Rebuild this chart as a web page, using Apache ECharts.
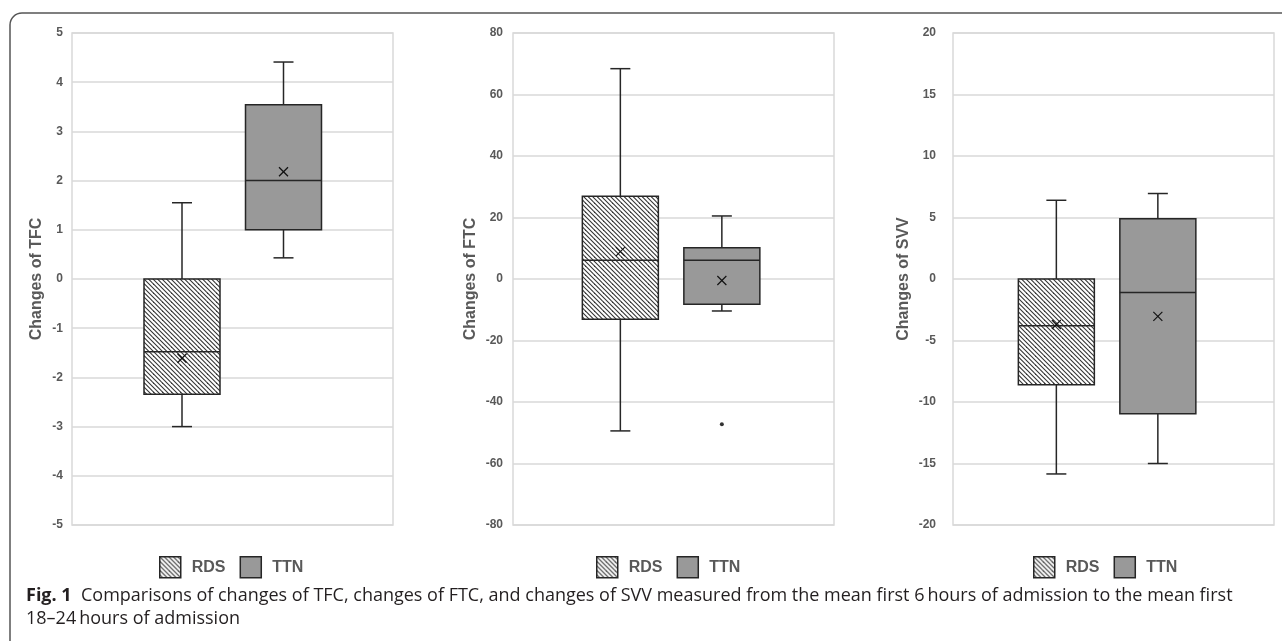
<!DOCTYPE html>
<html><head><meta charset="utf-8">
<script src="https://cdn.jsdelivr.net/npm/echarts@6/dist/echarts.min.js"></script>
<style>html,body{margin:0;padding:0;background:#fff}#c{width:1282px;height:641px}</style>
</head><body><div id="c"></div>
<script>
// ---------- data ----------
const groups = ['RDS', 'TTN'];
// five-number summaries: [min, Q1, median, Q3, max]
const tfcRDS = [-3.00, -2.34, -1.48, 0.00, 1.55];
const tfcTTN = [0.43, 1.00, 2.00, 3.54, 4.41];
const tfcMeans = [-1.61, 2.18];
const ftcRDS = [-49.4, -13.1, 6.1, 26.9, 68.4];
const ftcTTN = [-10.4, -8.2, 6.1, 10.2, 20.5];
const ftcMeans = [8.9, -0.5];
const ftcOutliersTTN = [-47.2];
const svvRDS = [-15.85, -8.6, -3.8, 0.0, 6.4];
const svvTTN = [-15.0, -10.95, -1.1, 4.9, 6.95];
const svvMeans = [-3.7, -3.04];
const axisTitles = ['Changes of TFC', 'Changes of FTC', 'Changes of SVV'];
const yMins = [-5, -80, -20];
const yMaxs = [5, 80, 20];
const yIntervals = [1, 20, 5];
const captionBold = 'Fig. 1';
const captionLine1 = 'Comparisons of changes of TFC, changes of FTC, and changes of SVV measured from the mean first 6\u2009hours of admission to the mean first';
const captionLine2 = '18\u201324\u2009hours of admission';

// ---------- layout / style ----------
const panelData = [
  { five: [tfcRDS, tfcTTN], means: tfcMeans, outliers: [[], []] },
  { five: [ftcRDS, ftcTTN], means: ftcMeans, outliers: [[], ftcOutliersTTN] },
  { five: [svvRDS, svvTTN], means: svvMeans, outliers: [[], []] }
];
const panelLayout = [
  { left: 72, boxLeft: 131.25, labelMargin: 9, nameGap: 27, legendLeft: 159 },
  { left: 513, boxLeft: 569.6, labelMargin: 10, nameGap: 34, legendLeft: 596 },
  { left: 953, boxLeft: 1005.6, labelMargin: 17, nameGap: 41, legendLeft: 1033 }
];
const PLOT_W = 321, PLOT_TOP = 33, PLOT_H = 492, BOX_GRID_W = 203;
const AXIS_FONT = '"Liberation Sans", Arial, sans-serif';
const GRAY_TEXT = '#595959';
const STROKE = '#262626';

function makeHatch() {
  const s = 9;
  const c = document.createElement('canvas');
  c.width = s; c.height = s;
  const ctx = c.getContext('2d');
  ctx.fillStyle = '#ffffff'; ctx.fillRect(0, 0, s, s);
  ctx.strokeStyle = '#333333'; ctx.lineWidth = 1.1;
  for (let k = -3; k <= 3; k++) {
    const o = k * 4.5;
    ctx.beginPath(); ctx.moveTo(o - 1, -1); ctx.lineTo(o + s + 1, s + 1); ctx.stroke();
  }
  return c;
}
const hatch = { image: makeHatch(), repeat: 'repeat' };
const fills = [hatch, '#999999'];

function makeRender(fill) {
  return function (params, api) {
    const cat = api.value(0);
    const v = [1, 2, 3, 4, 5, 6].map(i => api.value(i));
    const p = v.map(val => api.coord([cat, val]));
    const x = p[0][0];
    const hw = 38, cw = 10, m = 4.5, lw = 1.5;
    const yMin = p[0][1], yQ1 = p[1][1], yMed = p[2][1], yQ3 = p[3][1], yMax = p[4][1], yMean = p[5][1];
    const ls = { stroke: STROKE, lineWidth: lw };
    return {
      type: 'group',
      children: [
        { type: 'line', shape: { x1: x, y1: yQ1, x2: x, y2: yMin }, style: ls },
        { type: 'line', shape: { x1: x - cw, y1: yMin, x2: x + cw, y2: yMin }, style: ls },
        { type: 'line', shape: { x1: x, y1: yQ3, x2: x, y2: yMax }, style: ls },
        { type: 'line', shape: { x1: x - cw, y1: yMax, x2: x + cw, y2: yMax }, style: ls },
        { type: 'rect', shape: { x: x - hw, y: yQ3, width: 2 * hw, height: yQ1 - yQ3 }, style: { fill: fill, stroke: STROKE, lineWidth: lw } },
        { type: 'line', shape: { x1: x - hw, y1: yMed, x2: x + hw, y2: yMed }, style: ls },
        { type: 'line', shape: { x1: x - m, y1: yMean - m, x2: x + m, y2: yMean + m }, style: { stroke: '#111', lineWidth: 1.2 } },
        { type: 'line', shape: { x1: x - m, y1: yMean + m, x2: x + m, y2: yMean - m }, style: { stroke: '#111', lineWidth: 1.2 } }
      ]
    };
  };
}

const grids = [], xAxes = [], yAxes = [], series = [], legends = [];
panelLayout.forEach((L, i) => {
  const D = panelData[i];
  grids.push({ left: L.left, top: PLOT_TOP, width: PLOT_W, height: PLOT_H, show: true,
    borderColor: '#d9d9d9', borderWidth: 1.5, backgroundColor: 'transparent', containLabel: false, outerBoundsMode: 'none' });
  grids.push({ left: L.boxLeft, top: PLOT_TOP, width: BOX_GRID_W, height: PLOT_H, show: false, containLabel: false, outerBoundsMode: 'none' });
  xAxes.push({ gridIndex: 2 * i, type: 'category', data: [''], show: false });
  xAxes.push({ gridIndex: 2 * i + 1, type: 'category', data: groups, show: false, boundaryGap: true });
  yAxes.push({
    gridIndex: 2 * i, type: 'value', min: yMins[i], max: yMaxs[i], interval: yIntervals[i],
    axisLine: { show: false }, axisTick: { show: false },
    splitLine: { show: true, lineStyle: { color: '#d9d9d9', width: 1.5 } },
    axisLabel: { fontFamily: AXIS_FONT, fontWeight: 'bold', fontSize: 12, color: GRAY_TEXT, margin: L.labelMargin },
    name: axisTitles[i], nameLocation: 'middle', nameGap: L.nameGap,
    nameTextStyle: { fontFamily: AXIS_FONT, fontWeight: 'bold', fontSize: 16, color: GRAY_TEXT }
  });
  yAxes.push({ gridIndex: 2 * i + 1, type: 'value', min: yMins[i], max: yMaxs[i], interval: yIntervals[i], show: false, splitLine: { show: false } });
  groups.forEach((g, gi) => {
    series.push({
      type: 'custom', name: g, xAxisIndex: 2 * i + 1, yAxisIndex: 2 * i + 1,
      itemStyle: { color: fills[gi], borderColor: STROKE, borderWidth: 1.5 },
      renderItem: makeRender(fills[gi]),
      data: [[gi, ...D.five[gi], D.means[gi]]],
      silent: true, z: 3
    });
    if (D.outliers[gi].length) {
      series.push({
        type: 'scatter', name: g + ' outliers', xAxisIndex: 2 * i + 1, yAxisIndex: 2 * i + 1,
        symbol: 'circle', symbolSize: 4, itemStyle: { color: '#000' },
        data: D.outliers[gi].map(v => [gi, v]), silent: true, z: 4
      });
    }
  });
  legends.push({
    data: groups, left: L.legendLeft, top: 556, padding: 0, orient: 'horizontal',
    itemWidth: 21, itemHeight: 21, itemGap: 14, icon: 'rect', selectedMode: false,
    itemStyle: { borderColor: STROKE, borderWidth: 1.5 },
    textStyle: { fontFamily: AXIS_FONT, fontWeight: 'bold', fontSize: 16, color: GRAY_TEXT, padding: [0, 0, 0, 6] }
  });
});

const CAP_FONT = '"Open Sans", "Noto Sans", sans-serif';
function fitCaption() {
  const ctx = document.createElement('canvas').getContext('2d');
  ctx.font = 'bold 16px ' + CAP_FONT;
  const wb = ctx.measureText(captionBold + '  ').width;
  ctx.font = '16px ' + CAP_FONT;
  const wn = ctx.measureText(captionLine1).width;
  const target = 1229;
  return Math.max(13, Math.min(18, 16 * target / (wb + wn)));
}
const capSize = fitCaption();

const chart = echarts.init(document.getElementById('c'), null, { renderer: 'canvas' });
chart.setOption({
  backgroundColor: '#ffffff',
  animation: false,
  grid: grids, xAxis: xAxes, yAxis: yAxes, series: series, legend: legends,
  tooltip: { show: false },
  graphic: [
    { type: 'rect', silent: true, shape: { x: 10, y: 13, width: 1300, height: 700, r: [12, 0, 0, 0] },
      style: { fill: 'none', stroke: '#555555', lineWidth: 1.5 } },
    { type: 'text', silent: true, left: 26, top: 587,
      style: { text: '{b|' + captionBold + '}  ' + captionLine1, fontFamily: CAP_FONT, fontSize: capSize, fill: '#231f20',
        rich: { b: { fontFamily: CAP_FONT, fontWeight: 'bold', fontSize: capSize, fill: '#231f20' } } } },
    { type: 'text', silent: true, left: 26, top: 610,
      style: { text: captionLine2, fontFamily: CAP_FONT, fontSize: capSize, fill: '#231f20' } }
  ]
});
</script>
</body></html>
